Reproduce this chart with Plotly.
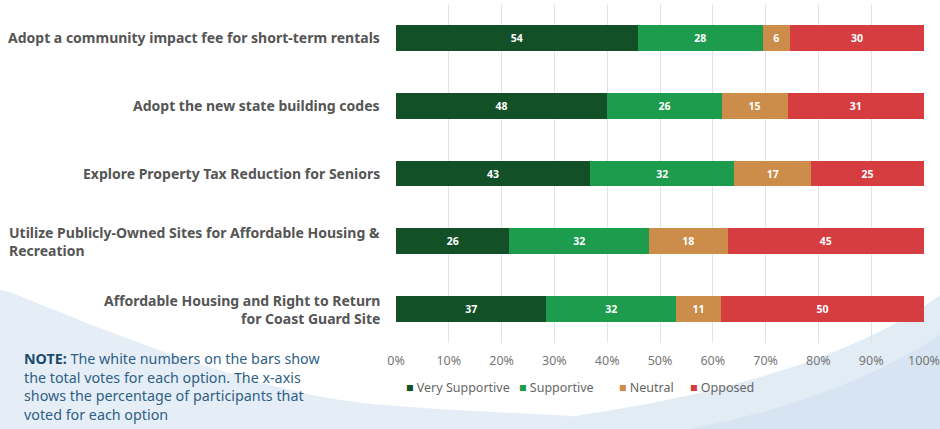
import plotly.graph_objects as go

# survey options, top to bottom
options = [
    "Adopt a community impact fee for short-term rentals",
    "Adopt the new state building codes",
    "Explore Property Tax Reduction for Seniors",
    "Utilize Publicly-Owned Sites for Affordable Housing &<br>Recreation",
    "Affordable Housing and Right to Return<br>for Coast Guard Site",
]
label_align = ["right", "right", "right", "left", "right"]

# vote counts per response
very_supportive = [54, 48, 43, 26, 37]
supportive = [28, 26, 32, 32, 32]
neutral = [6, 15, 17, 18, 11]
opposed = [30, 31, 25, 45, 50]

series = [
    ("Very Supportive", very_supportive, "#134f27"),
    ("Supportive", supportive, "#1c9c4c"),
    ("Neutral", neutral, "#cc8c4a"),
    ("Opposed", opposed, "#d63d41"),
]

W, H = 940, 429
ML, MR, MT, MB = 396, 16, 4, 86
PW, PH = W - ML - MR, H - MT - MB


def px_x(x):
    return (x - ML) / PW


def px_y(y):
    return (H - MB - y) / PH


def path(pts):
    # pts: list of ("M"/"C"/"L", [(x, y), ...]) in pixels
    out = ""
    for cmd, ps in pts:
        out += cmd + " " + " ".join(f"{px_x(x):.4f},{px_y(y):.4f}" for x, y in ps) + " "
    return out + "Z"


fig = go.Figure()
for name, vals, color in series:
    fig.add_trace(go.Bar(
        y=options, x=vals, name=name, orientation="h",
        marker=dict(color=color, line=dict(width=0)),
        text=vals, textposition="inside", insidetextanchor="middle",
        textfont=dict(color="white", size=10.5, family="Noto Sans"),
        texttemplate="<b>%{text}</b>", constraintext="none",
        showlegend=False,
    ))

# decorative waves in background
fig.add_shape(type="path", xref="paper", yref="paper", layer="below",
              path=path([("M", [(0, 290)]), ("L", [(10, 292), (12, 322)]),
                         ("C", [(80, 320), (220, 380), (340, 400)]),
                         ("C", [(440, 414), (620, 414), (780, 429)]),
                         ("L", [(0, 429)])]),
              fillcolor="#e5eef6", line=dict(width=0))
fig.add_shape(type="path", xref="paper", yref="paper", layer="below",
              path=path([("M", [(560, 429)]), ("L", [(580, 415)]),
                         ("C", [(700, 398), (850, 362), (940, 295)]),
                         ("L", [(940, 429)])]),
              fillcolor="#e1ecf5", line=dict(width=0))
fig.add_shape(type="path", xref="paper", yref="paper", layer="below",
              path=path([("M", [(690, 429)]), ("C", [(790, 410), (880, 375), (940, 335)]),
                         ("L", [(940, 429)])]),
              fillcolor="#d6e5f1", line=dict(width=0))

for opt, al in zip(options, label_align):
    fig.add_annotation(
        x=px_x(382), xref="paper", y=opt, yref="y", xanchor="right",
        text=f"<b>{opt}</b>", showarrow=False, align=al,
        font=dict(size=14, color="#555555", family="Noto Sans"),
    )

fig.add_annotation(
    x=px_x(22), xref="paper", y=px_y(347), yref="paper", xanchor="left", yanchor="top",
    text=("<b style='color:#1d4a70'>NOTE:</b> The white numbers on the bars show<br>"
          "the total votes for each option. The x-axis<br>"
          "shows the percentage of participants that<br>"
          "voted for each option"),
    showarrow=False, align="left",
    font=dict(size=14.3, color="#2f5f86", family="Noto Sans"),
)

# legend drawn as annotations to keep it compact
legend_x = [404, 517, 617, 688]
for (name, vals, color), lx in zip(series, legend_x):
    fig.add_annotation(
        x=px_x(lx), xref="paper", y=px_y(387), yref="paper",
        xanchor="left", yanchor="middle", showarrow=False,
        text=f"<span style='color:{color}'>■</span> {name}",
        font=dict(size=12.5, color="#666666", family="Noto Sans"),
    )

fig.update_layout(
    width=W, height=H,
    margin=dict(l=ML, r=MR, t=MT, b=MB, autoexpand=False),
    barmode="stack", barnorm="percent", bargap=0.62,
    paper_bgcolor="white", plot_bgcolor="rgba(0,0,0,0)",
    font=dict(family="Noto Sans", color="#666666"),
    showlegend=False,
    xaxis=dict(range=[0, 100], dtick=10, ticksuffix="%", showgrid=True,
               gridcolor="#e3e3e3", gridwidth=1, zeroline=False, automargin=False,
               tickfont=dict(size=12.5, color="#777777"), fixedrange=True,
               ticks="outside", ticklen=6, tickcolor="rgba(0,0,0,0)"),
    yaxis=dict(autorange="reversed", showticklabels=False, showgrid=False,
               fixedrange=True, automargin=False),
)

fig.write_html("out.html", config={"displayModeBar": False},
               post_script="document.body.style.margin='0';")
